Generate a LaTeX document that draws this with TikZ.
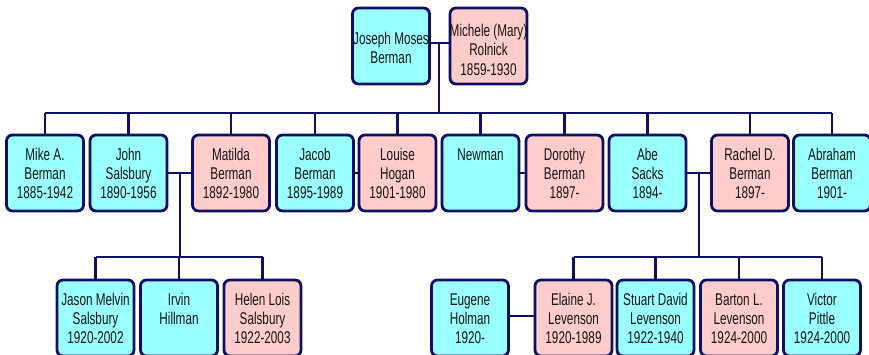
\documentclass[tikz,border=0pt]{standalone}
\usepackage{fontspec}
\setmainfont{Liberation Sans}[FakeStretch=0.69]
\definecolor{edge}{RGB}{14,14,100}
\definecolor{male}{RGB}{153,255,255}
\definecolor{female}{RGB}{255,204,204}
\definecolor{ink}{RGB}{20,20,20}
\newcommand{\bx}[2]{\parbox[t][76pt][t]{77pt}{\centering\fontsize{17}{19.3}\selectfont\vspace*{#1}\strut #2\par}}
\newcommand{\wide}[1]{\makebox[\linewidth][c]{#1}}
\tikzset{
  person/.style={draw=edge, line width=2.8pt, rounded corners=6pt, inner sep=0pt, text=ink},
  man/.style={person, fill=male},
  woman/.style={person, fill=female},
  link/.style={draw=edge, line width=2.8pt}
}
\begin{document}
\begin{tikzpicture}[x=1pt,y=-1pt]
\useasboundingbox (0,0) rectangle (869,354);
% generation 1
\node[man]   (joseph)  at (391,46)   {\bx{23pt}{\wide{Joseph Moses}\\Berman}};
\node[woman] (michele) at (488.5,46) {\bx{15pt}{\wide{Michele (Mary)}\\Rolnick\\1859-1930}};
% generation 2
\node[man]   (mike)    at (45,173)    {\bx{11.5pt}{Mike A.\\Berman\\1885-1942}};
\node[man]   (john)    at (128.5,173) {\bx{11.5pt}{John\\Salsbury\\1890-1956}};
\node[woman] (matilda) at (231,173)   {\bx{11.5pt}{Matilda\\Berman\\1892-1980}};
\node[man]   (jacob)   at (315,173)   {\bx{11.5pt}{Jacob\\Berman\\1895-1989}};
\node[woman] (louise)  at (397.5,173) {\bx{11.5pt}{Louise\\Hogan\\1901-1980}};
\node[man]   (newman)  at (480.5,173) {\bx{11.5pt}{Newman}};
\node[woman] (dorothy) at (564.5,173) {\bx{11.5pt}{Dorothy\\Berman\\1897-}};
\node[man]   (abe)     at (647.5,173) {\bx{11.5pt}{Abe\\Sacks\\1894-}};
\node[woman] (rachel)  at (750,173)   {\bx{11.5pt}{Rachel D.\\Berman\\1897-}};
\node[man]   (abraham) at (832,173)   {\bx{11.5pt}{Abraham\\Berman\\1901-}};
% generation 3
\node[man]   (jason)   at (95.5,318)  {\bx{11.5pt}{\wide{Jason Melvin}\\Salsbury\\1920-2002}};
\node[man]   (irvin)   at (179,318)   {\bx{11.5pt}{Irvin\\Hillman}};
\node[woman] (helen)   at (262.5,318) {\bx{11.5pt}{Helen Lois\\Salsbury\\1922-2003}};
\node[man]   (eugene)  at (470,318)   {\bx{11.5pt}{Eugene\\Holman\\1920-}};
\node[woman] (elaine)  at (573.5,318) {\bx{11.5pt}{Elaine J.\\Levenson\\1920-1989}};
\node[man]   (stuart)  at (655.5,318) {\bx{11.5pt}{\wide{Stuart David}\\Levenson\\1922-1940}};
\node[woman] (barton)  at (739,318)   {\bx{11.5pt}{Barton L.\\Levenson\\1924-2000}};
\node[man]   (victor)  at (822,318)   {\bx{11.5pt}{Victor\\Pittle\\1924-2000}};
% coordinates for junctions
\coordinate (m0) at (439,43);
\coordinate (bar0) at (439,113);
\coordinate (m1) at (180,173);
\coordinate (bar1) at (180,257);
\coordinate (m2) at (699,173);
\coordinate (bar2) at (699,257);
% marriage lines
\draw[link] (joseph.east |- m0) -- (michele.west |- m0);
\draw[link] (john.east |- m1) -- (matilda.west |- m1);
\draw[link] (jacob.east |- m1) -- (louise.west |- m1);
\draw[link] (newman.east |- m1) -- (dorothy.west |- m1);
\draw[link] (abe.east |- m2) -- (rachel.west |- m2);
\draw[link] (eugene.east |- 0,316) -- (elaine.west |- 0,316);
% descent from generation 1
\draw[link] (m0) -- (bar0);
\draw[link] (mike.north |- bar0) -- (abraham.north |- bar0);
\foreach \n in {mike,john,matilda,jacob,louise,newman,dorothy,abe,rachel,abraham}
  \draw[link] (\n.north |- bar0) -- (\n.north);
% descent from John and Matilda
\draw[link] (m1) -- (bar1);
\draw[link] (jason.north |- bar1) -- (helen.north |- bar1);
\foreach \n in {jason,irvin,helen}
  \draw[link] (\n.north |- bar1) -- (\n.north);
% descent from Abe and Rachel
\draw[link] (m2) -- (bar2);
\draw[link] (elaine.north |- bar2) -- (victor.north |- bar2);
\foreach \n in {elaine,stuart,barton,victor}
  \draw[link] (\n.north |- bar2) -- (\n.north);
\end{tikzpicture}
\end{document}
